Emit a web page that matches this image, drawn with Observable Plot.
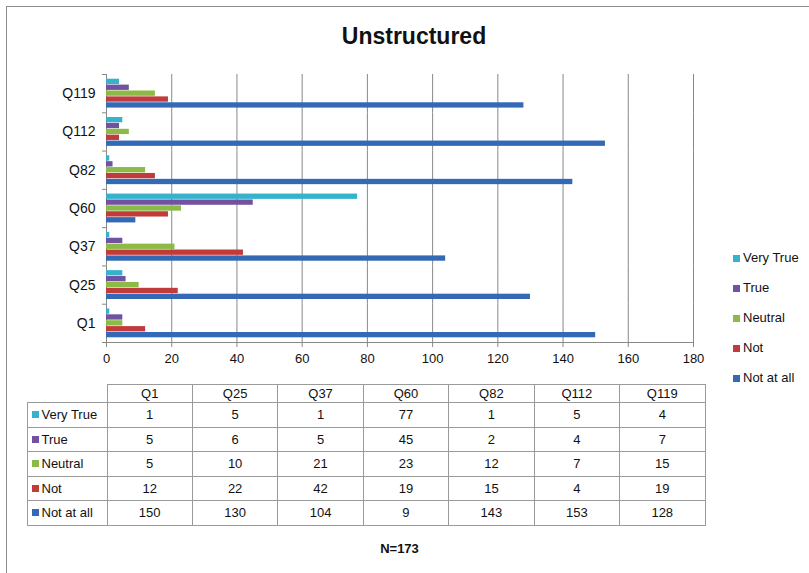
<!DOCTYPE html>
<html>
<head>
<meta charset="utf-8">
<script src="https://cdn.jsdelivr.net/npm/d3@7"></script>
<script src="https://cdn.jsdelivr.net/npm/@observablehq/plot@0.6"></script>
<style>
  html, body { margin: 0; padding: 0; background: #fff; }
  body { font-family: "Liberation Sans", Arial, sans-serif; color: #111; }
  #chart { position: relative; width: 809px; height: 573px; overflow: hidden; }
  #border { position: absolute; left: 6px; top: 6px; width: 900px; height: 700px;
            border-left: 1px solid #8c8c8c; border-top: 1px solid #8c8c8c; }
  #title { position: absolute; left: 0; width: 828px; top: 25px; text-align: center;
           font-size: 23px; line-height: 23px; font-weight: bold; }
  #plot { position: absolute; left: 0; top: 0; }
  .legend-item { position: absolute; left: 733px; height: 14px; font-size: 13px; line-height: 14px; white-space: nowrap; }
  .legend-item .sw { position: absolute; left: 0; top: 3.5px; width: 7px; height: 7px; }
  .legend-item .lb { position: absolute; left: 10px; top: 0; }
  #table { position: absolute; left: 26.5px; top: 384px; width: 679px; table-layout: fixed;
           border-collapse: collapse; font-size: 13px; }
  #table td, #table th { border: 1px solid #9a9a9a; padding: 0; text-align: center; font-weight: normal; }
  #table th { height: 17px; }
  #table td { height: 23.5px; }
  #table td.lab { text-align: left; white-space: nowrap; padding-left: 4px; }
  #table .sw { display: inline-block; width: 7px; height: 7px; margin-right: 3px; vertical-align: 1px; }
  #table th.blank { border-top: none; border-left: none; }
  #caption { position: absolute; left: 0; width: 799px; top: 541px; text-align: center; font-size: 13px; font-weight: bold; line-height: 16px; }
</style>
</head>
<body>
<div id="chart">
  <div id="border"></div>
  <div id="title"></div>
  <div id="plot"></div>
  <div id="legend"></div>
  <table id="table"></table>
  <div id="caption"></div>
</div>
<script>
// ---- data ----
const titleText = "Unstructured";
const captionText = "N=173";
const questions = ["Q1", "Q25", "Q37", "Q60", "Q82", "Q112", "Q119"];
const responses = ["Very True", "True", "Neutral", "Not", "Not at all"];
const veryTrue = [1, 5, 1, 77, 1, 5, 4];
const trueVals = [5, 6, 5, 45, 2, 4, 7];
const neutral = [5, 10, 21, 23, 12, 7, 15];
const notVals = [12, 22, 42, 19, 15, 4, 19];
const notAtAll = [150, 130, 104, 9, 143, 153, 128];
const xTicks = [0, 20, 40, 60, 80, 100, 120, 140, 160, 180];
const colors = ["#37b2cd", "#7052a0", "#8cba46", "#c13b3b", "#3469b6"];

const series = [veryTrue, trueVals, neutral, notVals, notAtAll];
const data = questions.flatMap((q, i) =>
  responses.map((r, j) => ({question: q, response: r, value: series[j][i]})));

document.getElementById("title").textContent = titleText;
document.getElementById("caption").textContent = captionText;

const W = 809, H = 380, ML = 106, MR = 116, MT = 74, MB = 38;
const innerW = W - ML - MR;
const grey = "#888";

const plot = Plot.plot({
  width: W, height: H,
  marginLeft: ML, marginRight: MR, marginTop: MT, marginBottom: MB,
  style: {fontFamily: "'Liberation Sans', Arial, sans-serif", fontSize: "13px", color: "#111", background: "transparent"},
  x: {domain: [0, 180]},
  y: {domain: responses, paddingInner: 0.1, paddingOuter: 0.8, axis: null, round: false},
  fy: {domain: questions.slice().reverse(), padding: 0, round: false},
  color: {domain: responses, range: colors},
  marks: [
    Plot.gridX({ticks: xTicks, stroke: grey, strokeOpacity: 1, strokeWidth: 1}),
    Plot.barX(data, {x: "value", y: "response", fy: "question", fill: "response"}),
    Plot.frame({anchor: "bottom", facetAnchor: "bottom", stroke: grey}),
    Plot.frame({anchor: "top", stroke: grey, dx: -4, insetRight: innerW - 4}),
    Plot.frame({anchor: "bottom", facetAnchor: "bottom", stroke: grey, dx: -4, insetRight: innerW - 4}),
    Plot.axisX({ticks: xTicks, tickSize: 5, tickPadding: 6, stroke: grey, fill: "#111", fontSize: 13, label: null}),
    Plot.axisFy({anchor: "left", tickSize: 0, tickPadding: 11, fontSize: 14, fill: "#111", label: null})
  ]
});
document.getElementById("plot").appendChild(plot);

// legend
const legend = document.getElementById("legend");
responses.forEach((r, j) => {
  const it = document.createElement("div");
  it.className = "legend-item";
  it.style.top = (258 + 30 * j - 7) + "px";
  it.innerHTML = `<span class="sw" style="background:${colors[j]}"></span><span class="lb">${r}</span>`;
  legend.appendChild(it);
});

// data table
const table = document.getElementById("table");
let html = `<tr><th class="blank" style="width:79.5px"></th>` +
  questions.map(q => `<th>${q}</th>`).join("") + `</tr>`;
responses.forEach((r, j) => {
  html += `<tr><td class="lab"><span class="sw" style="background:${colors[j]}"></span>${r}</td>` +
    series[j].map(v => `<td>${v}</td>`).join("") + `</tr>`;
});
table.innerHTML = html;
</script>
</body>
</html>
